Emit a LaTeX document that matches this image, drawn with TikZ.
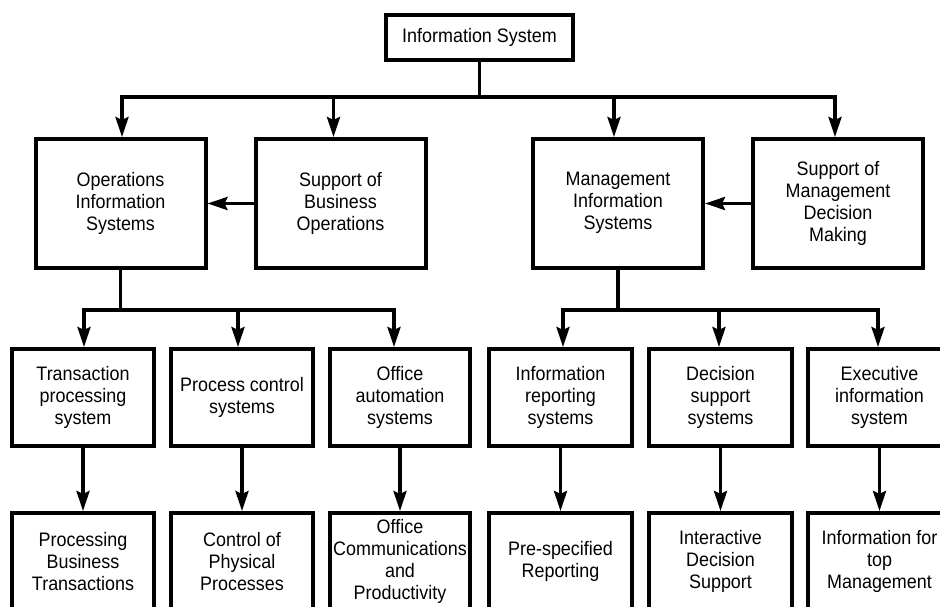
\documentclass[tikz,border=0pt]{standalone}
\usepackage{fontspec}
\setmainfont{Liberation Sans}[FakeStretch=0.92]
\usetikzlibrary{arrows.meta}
\tikzset{
  box/.style={draw, line width=4pt, align=center, inner sep=0pt,
    font=\fontsize{19.5pt}{22pt}\selectfont},
  topbox/.style={box, minimum width=187pt, minimum height=45pt},
  bigbox/.style={box, minimum width=170pt, minimum height=129pt},
  smallbox/.style={box, minimum width=142pt, minimum height=97pt},
  link/.style={line width=3.5pt, line join=miter},
  arr/.style={link, -{Stealth[length=20pt,width=13pt,inset=3pt]}},
}
\begin{document}
\begin{tikzpicture}[x=1pt,y=-1pt]
\clip (0,0) rectangle (940,606);
\fill[white] (0,0) rectangle (940,606);

% top
\node[topbox] (is) at (479.5,37.5) {Information System};

% second level
\node[bigbox] (ois)  at (120.5,203.5) {Operations\\Information\\Systems};
\node[bigbox] (sbo)  at (340.5,203.5) {Support of\\Business\\Operations};
\node[bigbox] (mis)  at (618,203.5) {\raisebox{8.5pt}{\begin{tabular}{@{}c@{}}Management\\Information\\Systems\end{tabular}}};
\node[bigbox] (smdm) at (838,203.5) {Support of\\Management\\Decision\\Making};

% third level
\node[smallbox] (tps) at (83,397.5)    {Transaction\\processing\\system};
\node[smallbox] (pcs) at (242,397.5)   {Process control\\systems};
\node[smallbox, minimum width=140pt] (oas) at (400,397.5) {Office\\automation\\systems};
\node[smallbox, minimum width=143pt] (irs) at (560.5,397.5) {Information\\reporting\\systems};
\node[smallbox, minimum width=143pt] (dss) at (720.5,397.5) {Decision\\support\\systems};
\node[smallbox, minimum width=143pt] (eis) at (879.5,397.5) {Executive\\information\\system};

% fourth level
\node[smallbox] (ptb) at (83,561.5)    {Processing\\Business\\Transactions};
\node[smallbox] (cpp) at (242,561.5)   {Control of\\Physical\\Processes};
\node[smallbox, minimum width=140pt] (ocp) at (400,561.5) {Office\\Communications\\and\\Productivity};
\node[smallbox, minimum width=143pt] (psr) at (560.5,561.5) {Pre-specified\\Reporting};
\node[smallbox, minimum width=143pt] (ids) at (720.5,561.5) {Interactive\\Decision\\Support};
\node[smallbox, minimum width=143pt] (itm) at (879.5,561.5) {Information for\\top\\Management};

% junctions
\coordinate (j1) at (479.5,97);
\coordinate (j2) at (120.5,310);
\coordinate (j3) at (618,310);

% top connectors
\draw[link] (is.south) -- (j1);
\draw[arr] (j1) -| ([xshift=1.5pt]ois.north);
\draw[arr] (j1) -| ([xshift=-7pt]sbo.north);
\draw[arr] (j1) -| ([xshift=-4pt]mis.north);
\draw[arr] (j1) -| ([xshift=-3pt]smdm.north);

% side arrows
\draw[arr] (sbo.west) -- (ois.east);
\draw[arr] (smdm.west) -- (mis.east);

% operations branch
\draw[link] (ois.south) -- (j2);
\draw[arr] (j2) -| ([xshift=1pt]tps.north);
\draw[arr] (j2) -| ([xshift=-4pt]pcs.north);
\draw[arr] (j2) -| ([xshift=-6pt]oas.north);

% management branch
\draw[link] (mis.south) -- (j3);
\draw[arr] (j3) -| ([xshift=2.5pt]irs.north);
\draw[arr] (j3) -| ([xshift=-1.5pt]dss.north);
\draw[arr] (j3) -| ([xshift=-1.5pt]eis.north);

% third to fourth level
\draw[arr] (tps.south) -- (ptb.north);
\draw[arr] (pcs.south) -- (cpp.north);
\draw[arr] (oas.south) -- (ocp.north);
\draw[arr] (irs.south) -- (psr.north);
\draw[arr] (dss.south) -- (ids.north);
\draw[arr] (eis.south) -- (itm.north);
\end{tikzpicture}
\end{document}
